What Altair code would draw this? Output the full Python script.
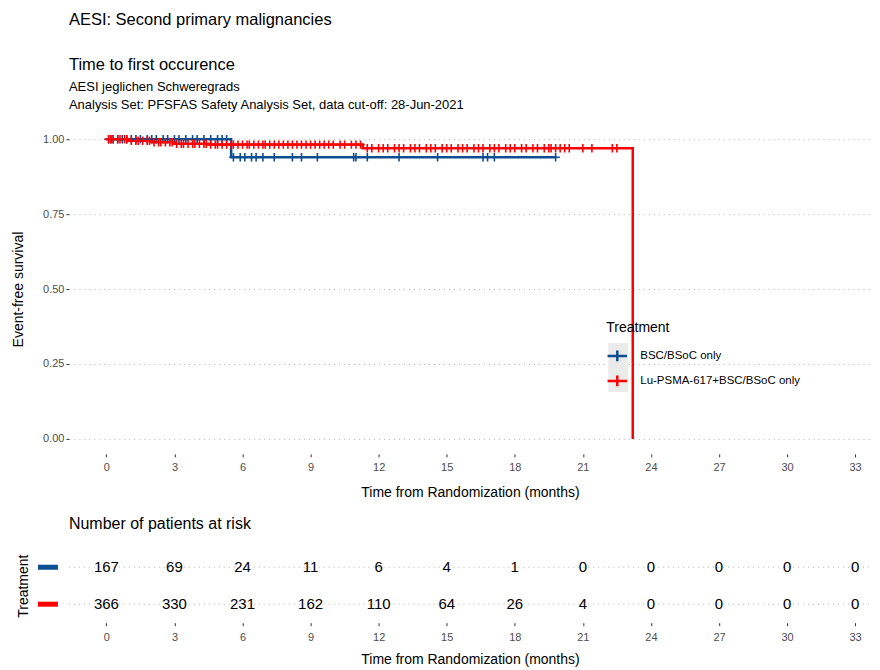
import altair as alt
import pandas as pd

# ---------------- data ----------------
groups = ["BSC/BSoC only", "Lu-PSMA-617+BSC/BSoC only"]
colors = ["#0C4E92", "#FF0000"]

# Kaplan-Meier step points (time in months, survival)
blue_step_t = [0.0, 5.5, 19.8]
blue_step_s = [1.0, 0.94, 0.94]
red_step_t = [0.0, 1.0, 2.0, 3.0, 4.5, 11.3, 23.2]
red_step_s = [1.0, 0.995, 0.99, 0.985, 0.982, 0.97, 0.0]

# censoring times
blue_cens = [0.1, 0.2, 0.3, 0.5, 0.7, 0.9, 1.1, 1.3, 1.5, 1.8, 2.0, 2.2, 2.5, 2.7,
             3.0, 3.2, 3.5, 3.8, 4.0, 4.3, 4.6, 4.9, 5.1, 5.3, 5.6, 5.9, 6.1, 6.4,
             6.6, 6.9, 7.4, 8.2, 8.6, 9.3, 10.9, 11.0, 11.5, 12.9, 14.6, 16.6,
             16.8, 17.1, 19.8]
red_cens = [0.1, 0.2, 0.3, 0.5, 0.6, 0.8, 0.9, 1.1, 1.3, 1.4, 1.6, 1.8, 1.9, 2.1,
            2.3, 2.4, 2.6, 2.8, 2.9, 3.1, 3.3, 3.4, 3.6, 3.8, 3.9, 4.1, 4.3, 4.4,
            4.6, 4.8, 4.9, 5.1, 5.3, 5.5, 5.6, 5.8, 6.0, 6.2, 6.3, 6.5, 6.7, 6.9,
            7.0, 7.2, 7.4, 7.6, 7.8, 8.0, 8.2, 8.4, 8.6, 8.8, 9.0, 9.2, 9.4, 9.6,
            9.8, 10.0, 10.3, 10.5, 10.8, 11.0, 11.2, 11.5, 11.7, 12.0, 12.2, 12.4,
            12.7, 12.9, 13.1, 13.4, 13.6, 13.8, 14.1, 14.3, 14.5, 14.8, 15.0, 15.2,
            15.5, 15.7, 15.9, 16.2, 16.4, 16.6, 16.9, 17.1, 17.3, 17.6, 17.8, 18.0,
            18.3, 18.5, 18.8, 19.0, 19.3, 19.5, 19.6, 19.8, 20.0, 20.2, 20.4, 21.0,
            21.4, 22.3, 22.5]

tick_months = [0, 3, 6, 9, 12, 15, 18, 21, 24, 27, 30, 33]
risk_blue = [167, 69, 24, 11, 6, 4, 1, 0, 0, 0, 0, 0]
risk_red = [366, 330, 231, 162, 110, 64, 26, 4, 0, 0, 0, 0]

# ---------------- tables ----------------
def step_value(ts, ss, t):
    v = ss[0]
    for ti, si in zip(ts, ss):
        if ti <= t:
            v = si
    return v

steps = pd.DataFrame(
    [{"t": t, "s": s, "grp": groups[0]} for t, s in zip(blue_step_t, blue_step_s)]
    + [{"t": t, "s": s, "grp": groups[1]} for t, s in zip(red_step_t, red_step_s)]
)
cens = pd.DataFrame(
    [{"t": t, "s": step_value(blue_step_t, blue_step_s, t), "grp": groups[0]} for t in blue_cens]
    + [{"t": t, "s": step_value(red_step_t, red_step_s, t), "grp": groups[1]} for t in red_cens]
)
risk = pd.DataFrame(
    [{"t": t, "n": n, "row": 2, "grp": groups[0]} for t, n in zip(tick_months, risk_blue)]
    + [{"t": t, "n": n, "row": 1, "grp": groups[1]} for t, n in zip(tick_months, risk_red)]
)
rows = pd.DataFrame({"row": [2, 1], "grp": groups})

FONT = "Liberation Sans"
XDOM = [-1.65, 33.7]
W = 803

xscale = alt.Scale(domain=XDOM, nice=False, zero=False)
cscale = alt.Scale(domain=groups, range=colors)

def make_x_axis(label_pad, title_pad):
    return alt.Axis(values=tick_months, grid=False, domain=False, tickSize=3,
                    tickColor="#333333", labelColor="#4d4d4d", labelFontSize=11,
                    labelPadding=label_pad, title="Time from Randomization (months)",
                    titleFontSize=14, titleFontWeight="normal", titleColor="black",
                    titlePadding=title_pad)

keybg = alt.Chart(pd.DataFrame({"k": [0]})).mark_rect(color="#ebebeb").encode(
    x=alt.value(540), x2=alt.value(560), y=alt.value(219), y2=alt.value(268),
)

lines = alt.Chart(steps).mark_line(interpolate="step-after", strokeWidth=2.5).encode(
    x=alt.X("t:Q", scale=xscale, axis=make_x_axis(5, 13)),
    y=alt.Y("s:Q", scale=alt.Scale(domain=[-0.05, 1.05], nice=False),
            axis=alt.Axis(values=[0, 0.25, 0.5, 0.75, 1.0], format=".2f",
                          grid=True, gridDash=[1, 4], gridColor="#b0b0b0",
                          domain=False, tickSize=3, tickColor="#333333",
                          labelColor="#4d4d4d", labelFontSize=11,
                          title="Event-free survival", titleFontSize=14,
                          titleFontWeight="normal", titleColor="black",
                          titlePadding=17)),
    color=alt.Color("grp:N", scale=cscale,
                    legend=alt.Legend(title="Treatment", orient="none",
                                      legendX=538, legendY=197,
                                      titleFontSize=14, titleFontWeight="normal",
                                      titleColor="black", labelFontSize=11.5,
                                      labelColor="black", labelLimit=400,
                                      labelOffset=12,
                                      symbolType="M-1,0L1,0M0,-0.55L0,0.55",
                                      symbolSize=380, symbolStrokeWidth=2.5,
                                      symbolFillColor="transparent",
                                      rowPadding=3, titlePadding=10)),
    detail="grp:N",
)

marks = alt.Chart(cens).mark_point(
    shape="M-1,0L1,0M0,-1L0,1", size=72, strokeWidth=1.6, filled=False, opacity=1
).encode(
    x=alt.X("t:Q", scale=xscale),
    y=alt.Y("s:Q"),
    color=alt.Color("grp:N", scale=cscale, legend=None),
)

top = alt.layer(keybg, lines, marks).properties(width=W, height=330)

yrow = alt.Scale(domain=[0.5, 2.5], nice=False, zero=False)

row_grid = alt.Chart(rows).mark_rule(strokeDash=[1, 4], color="#b0b0b0").encode(
    y=alt.Y("row:Q", scale=yrow,
            axis=alt.Axis(labels=False, ticks=False, domain=False, grid=False,
                          title="Treatment", titleFontSize=14,
                          titleFontWeight="normal", titleColor="black",
                          titlePadding=38)),
    x=alt.value(0), x2=alt.value(W),
)
row_keys = alt.Chart(rows).mark_rule(strokeWidth=5).encode(
    y=alt.Y("row:Q", scale=yrow),
    x=alt.value(-31), x2=alt.value(-11),
    color=alt.Color("grp:N", scale=cscale, legend=None),
)
texts = alt.Chart(risk).mark_text(fontSize=15, color="black").encode(
    x=alt.X("t:Q", scale=xscale, axis=make_x_axis(6, 10)),
    y=alt.Y("row:Q", scale=yrow),
    text="n:Q",
)
bottom = alt.layer(row_grid, row_keys, texts).properties(
    width=W, height=74,
    title=alt.TitleParams("Number of patients at risk", anchor="start",
                          frame="group", fontSize=16, fontWeight="normal",
                          color="black", offset=17),
)

chart = alt.vconcat(top, bottom, spacing=16).properties(
    title=alt.TitleParams(
        ["AESI: Second primary malignancies", "Time to first occurence"],
        subtitle=["AESI jeglichen Schweregrads",
                  "Analysis Set: PFSFAS Safety Analysis Set, data cut-off: 28-Jun-2021"],
        anchor="start", frame="group", fontSize=16.5, fontWeight="normal",
        color="black", lineHeight=45, subtitleFontSize=13, subtitleColor="black",
        subtitleLineHeight=18, subtitlePadding=8, offset=12),
    padding={"left": 3, "top": 3, "right": 0, "bottom": 0},
).configure(font=FONT).configure_view(stroke=None)

chart.save("out.html", embed_options={"renderer": "svg", "actions": False})
